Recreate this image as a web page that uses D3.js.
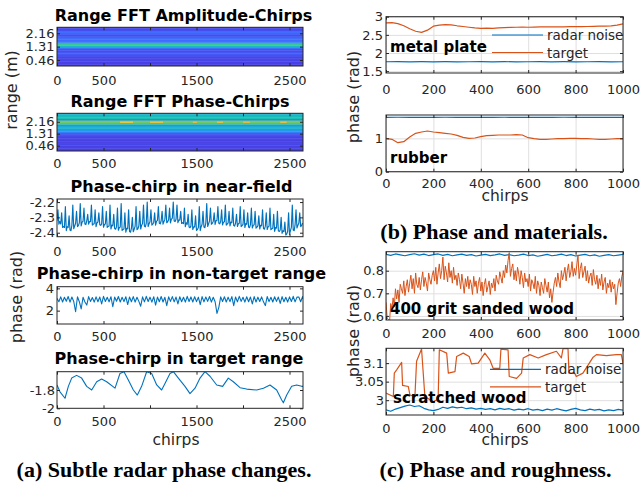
<!DOCTYPE html>
<html>
<head>
<meta charset="utf-8">
<script src="https://cdn.jsdelivr.net/npm/d3@7"></script>
<style>
  body { margin: 0; background: #fff; }
  text { font-family: "DejaVu Sans", sans-serif; }
</style>
</head>
<body>
<div id="chart"></div>
<script>
// ---- data ----
var chirpMaxA = 2645;
var xTicksA = [0, 500, 1000, 1500, 2000, 2500];
var xLabelsA = [0, 500, 1500, 2500];
var xTicksBC = [0, 200, 400, 600, 800, 1000];
var rangeTicks = [0.46, 1.31, 2.16];

// range FFT heat maps: one value per 0.1 m range bin, bottom bin first
var rangeStart = 0.08, rangeStep = 0.1;
var ampRows = [0.1, 0.1, 0.1, 0.11, 0.12, 0.11, 0.13, 0.16, 0.17, 0.13, 0.14, 0.22, 0.45,
               0.6, 0.52, 0.25, 0.2, 0.22, 0.18, 0.13, 0.17, 0.21, 0.14, 0.12, 0.12];
var phaseRows = [0.1, 0.1, 0.11, 0.1, 0.11, 0.12, 0.1, 0.1, 0.11, 0.1, 0.12, 0.12, 0.16,
                 0.26, 0.36, 0.34, 0.45, 0.42, 0.3, 0.56, 0.64, 0.62, 0.27, 0.5, 0.5, 0.45, 0.45];
// [chirp from, chirp to, range bin, value]
var phaseHot = [[677, 817, 20, 0.86], [1000, 1140, 20, 0.84], [1460, 1505, 20, 0.8],
                [1720, 1785, 20, 0.82], [2000, 2075, 20, 0.8], [2400, 2470, 20, 0.82]];

// near-field phase, one value every 10 chirps
var nearField = [
  -2.322, -2.25, -2.344, -2.327, -2.343, -2.27, -2.365, -2.359,
  -2.366, -2.23, -2.386, -2.361, -2.365, -2.29, -2.383, -2.387,
  -2.352, -2.22, -2.374, -2.357, -2.338, -2.26, -2.36, -2.354,
  -2.336, -2.21, -2.356, -2.331, -2.325, -2.24, -2.343, -2.347,
  -2.322, -2.28, -2.344, -2.327, -2.328, -2.22, -2.35, -2.344,
  -2.341, -2.25, -2.361, -2.336, -2.33, -2.27, -2.348, -2.352,
  -2.342, -2.23, -2.364, -2.347, -2.343, -2.26, -2.365, -2.359,
  -2.356, -2.22, -2.376, -2.351, -2.355, -2.28, -2.373, -2.377,
  -2.362, -2.24, -2.384, -2.367, -2.363, -2.21, -2.385, -2.379,
  -2.376, -2.27, -2.396, -2.371, -2.375, -2.25, -2.393, -2.397,
  -2.372, -2.30, -2.394, -2.377, -2.358, -2.23, -2.38, -2.374,
  -2.356, -2.26, -2.376, -2.351, -2.34, -2.22, -2.358, -2.362,
  -2.337, -2.20, -2.359, -2.342, -2.328, -2.25, -2.35, -2.344,
  -2.331, -2.27, -2.351, -2.326, -2.32, -2.23, -2.338, -2.342,
  -2.322, -2.26, -2.344, -2.327, -2.313, -2.22, -2.335, -2.329,
  -2.316, -2.24, -2.336, -2.311, -2.305, -2.20, -2.323, -2.327,
  -2.312, -2.22, -2.334, -2.317, -2.318, -2.26, -2.34, -2.334,
  -2.341, -2.24, -2.361, -2.336, -2.345, -2.28, -2.363, -2.367,
  -2.357, -2.25, -2.379, -2.362, -2.363, -2.29, -2.385, -2.379,
  -2.366, -2.23, -2.386, -2.361, -2.345, -2.26, -2.363, -2.367,
  -2.337, -2.21, -2.359, -2.342, -2.323, -2.24, -2.345, -2.339,
  -2.326, -2.27, -2.346, -2.321, -2.32, -2.23, -2.338, -2.342,
  -2.327, -2.25, -2.349, -2.332, -2.328, -2.22, -2.35, -2.344,
  -2.336, -2.26, -2.356, -2.331, -2.335, -2.24, -2.353, -2.357,
  -2.337, -2.28, -2.359, -2.342, -2.338, -2.23, -2.36, -2.354,
  -2.346, -2.25, -2.366, -2.341, -2.345, -2.27, -2.363, -2.367,
  -2.347, -2.24, -2.369, -2.352, -2.348, -2.26, -2.37, -2.364,
  -2.356, -2.29, -2.376, -2.351, -2.355, -2.25, -2.373, -2.377,
  -2.357, -2.27, -2.379, -2.362, -2.358, -2.24, -2.38, -2.374,
  -2.371, -2.28, -2.391, -2.366, -2.37, -2.26, -2.388, -2.392,
  -2.382, -2.30, -2.404, -2.387, -2.393, -2.33, -2.415, -2.409,
  -2.391, -2.27, -2.411, -2.386, -2.365, -2.22, -2.383, -2.387,
  -2.347, -2.25, -2.369, -2.352, -2.338, -2.27, -2.36, -2.354,
  -2.337];

// non-target range phase, one value every 20 chirps
var nonTarget = [3.1, 2.8, 3.24, 2.78, 3.2, 2.85, 3.27, 2.76, 3.22, 2.82,
  1.9, 3.25, 2.8, 2.15, 3.2, 2.78, 2.5, 3.26, 2.83, 3.18,
  2.77, 3.24, 2.8, 3.22, 2.6, 3.28, 2.82, 3.2, 2.79, 3.25,
  2.35, 3.22, 2.84, 3.27, 2.78, 3.2, 2.81, 3.25, 2.55, 3.23,
  2.8, 3.26, 2.77, 3.2, 2.83, 2.4, 3.24, 2.79, 3.28, 2.82,
  3.21, 2.76, 3.25, 2.5, 3.22, 2.8, 3.27, 2.78, 3.2, 2.45,
  3.24, 2.83, 3.26, 2.79, 3.22, 2.6, 3.25, 2.8, 3.2, 2.77,
  3.28, 2.82, 3.23, 2.78, 3.25, 2.81, 3.21, 2.55, 3.26, 2.79,
  3.22, 2.83, 3.27, 2.77, 3.2, 2.8, 1.75, 2.3, 3.24, 2.82,
  3.25, 2.78, 3.21, 2.81, 3.26, 2.45, 3.23, 2.79, 3.28, 2.83,
  3.2, 2.77, 3.25, 2.8, 3.22, 2.6, 3.26, 2.78, 3.21, 2.82,
  3.24, 2.79, 2.45, 3.27, 2.81, 3.2, 2.78, 3.25, 2.83, 3.22,
  2.65, 3.26, 2.8, 3.2, 2.77, 3.24, 2.82, 3.28, 2.79, 3.21,
  3.23, 2.8, 3.26, 2.78, 3.2, 2.83, 3.25, 2.79, 3.22, 2.8,
  2.81, 2.2, 3.1];

// target range phase [chirp, rad]
var targetRange = [[0, -1.745], [32, -1.82], [86, -1.89], [122, -1.76], [158, -1.67], [211, -1.64],
  [265, -1.67], [319, -1.76], [373, -1.8], [427, -1.71], [480, -1.68], [534, -1.71], [624, -1.78],
  [677, -1.62], [720, -1.6], [767, -1.69], [821, -1.8], [864, -1.855], [910, -1.76], [964, -1.6],
  [1018, -1.62], [1072, -1.745], [1125, -1.8], [1161, -1.73], [1215, -1.62], [1251, -1.6],
  [1305, -1.67], [1376, -1.76], [1430, -1.84], [1484, -1.78], [1538, -1.67], [1591, -1.6],
  [1645, -1.65], [1717, -1.745], [1781, -1.76], [1842, -1.67], [1896, -1.71], [1968, -1.775],
  [2039, -1.79], [2147, -1.8], [2219, -1.78], [2290, -1.745], [2362, -1.8], [2416, -1.91],
  [2434, -1.94], [2470, -1.855], [2523, -1.76], [2577, -1.745], [2631, -1.76], [2645, -1.76]];

// (b) materials, every 25 chirps for target, every 50 for noise
var metalTarget = [2.83, 2.835, 2.81, 2.75, 2.67, 2.6, 2.57, 2.63, 2.74, 2.77, 2.78, 2.775, 2.75,
  2.73, 2.71, 2.69, 2.68, 2.685, 2.68, 2.69, 2.7, 2.705, 2.71, 2.712, 2.71, 2.715, 2.72, 2.718,
  2.72, 2.722, 2.72, 2.725, 2.73, 2.728, 2.73, 2.735, 2.74, 2.738, 2.75, 2.77, 2.8];
var metalNoise = [1.76, 1.762, 1.758, 1.761, 1.759, 1.762, 1.758, 1.76, 1.761, 1.759, 1.762,
  1.758, 1.76, 1.761, 1.759, 1.762, 1.758, 1.76, 1.761, 1.759, 1.76];
var rubberTarget = [1.0, 0.97, 0.87, 0.9, 1.04, 1.15, 1.19, 1.22, 1.19, 1.17, 1.15, 1.13, 1.09,
  1.03, 1.0, 1.01, 1.05, 1.08, 1.09, 1.1, 1.1, 1.1, 1.11, 1.1, 1.02, 0.99, 0.97, 0.97, 0.98,
  0.99, 0.99, 1.0, 1.0, 0.99, 0.99, 0.98, 0.97, 0.97, 0.98, 0.99, 0.99];
var rubberNoise = [1.63, 1.632, 1.628, 1.631, 1.629, 1.632, 1.628, 1.63, 1.631, 1.629, 1.632,
  1.628, 1.63, 1.631, 1.629, 1.632, 1.628, 1.63, 1.631, 1.629, 1.63];

// (c) roughness; sanded target every 5 chirps
var sandedTarget = [
  0.66, 0.59, 0.585, 0.575, 0.655, 0.632, 0.68, 0.64, 0.72, 0.675,
  0.715, 0.66, 0.74, 0.72, 0.70, 0.755, 0.69, 0.73, 0.76, 0.705,
  0.745, 0.78, 0.72, 0.765, 0.70, 0.79, 0.74, 0.725, 0.77, 0.715,
  0.76, 0.795, 0.73, 0.77, 0.745, 0.71, 0.79, 0.76, 0.74, 0.78,
  0.80, 0.755, 0.815, 0.74, 0.79, 0.83, 0.765, 0.80, 0.86, 0.76,
  0.82, 0.79, 0.75, 0.835, 0.77, 0.80, 0.745, 0.815, 0.76, 0.78,
  0.735, 0.79, 0.76, 0.72, 0.785, 0.745, 0.70, 0.765, 0.73, 0.775,
  0.72, 0.76, 0.74, 0.695, 0.775, 0.73, 0.755, 0.70, 0.745, 0.77,
  0.71, 0.75, 0.69, 0.74, 0.765, 0.705, 0.73, 0.755, 0.695, 0.745,
  0.725, 0.765, 0.71, 0.78, 0.755, 0.74, 0.795, 0.77, 0.745, 0.80,
  0.77, 0.825, 0.79, 0.845, 0.88, 0.775, 0.81, 0.83, 0.76, 0.80,
  0.755, 0.815, 0.785, 0.74, 0.80, 0.77, 0.725, 0.79, 0.75, 0.765,
  0.73, 0.785, 0.71, 0.76, 0.745, 0.72, 0.775, 0.70, 0.755, 0.735,
  0.69, 0.75, 0.725, 0.70, 0.765, 0.735, 0.705, 0.75, 0.68, 0.72,
  0.66, 0.705, 0.745, 0.77, 0.73, 0.79, 0.75, 0.725, 0.80, 0.76,
  0.785, 0.815, 0.755, 0.80, 0.83, 0.77, 0.795, 0.84, 0.775, 0.81,
  0.78, 0.825, 0.87, 0.765, 0.81, 0.835, 0.77, 0.795, 0.82, 0.755,
  0.80, 0.745, 0.775, 0.79, 0.735, 0.805, 0.76, 0.74, 0.78, 0.72,
  0.765, 0.735, 0.785, 0.715, 0.75, 0.77, 0.70, 0.745, 0.725, 0.76,
  0.705, 0.75, 0.72, 0.74, 0.65, 0.70, 0.745, 0.765, 0.73, 0.775,
  0.795];
var sandedNoise = [0.872, 0.868, 0.874, 0.870, 0.866, 0.871, 0.875, 0.869, 0.873, 0.867,
  0.871, 0.874, 0.868, 0.872, 0.866, 0.870, 0.873, 0.868, 0.871, 0.865,
  0.869, 0.872, 0.867, 0.870, 0.874, 0.868, 0.871, 0.866, 0.869, 0.873,
  0.867, 0.870, 0.864, 0.868, 0.872, 0.866, 0.869, 0.873, 0.867, 0.871,
  0.865, 0.869, 0.872, 0.866, 0.870, 0.864, 0.868, 0.871, 0.866, 0.869, 0.872];
var scratchTarget = [[0, 3.019], [17, 3.014], [31, 3.01], [35, 3.073], [45, 3.082], [66, 3.102],
  [70, 3.04], [94, 3.037], [101, 3.014], [122, 3.01], [129, 3.105], [150, 3.138], [164, 3.01],
  [199, 2.996], [220, 3.003], [225, 3.136], [256, 3.127], [263, 3.073], [291, 3.077], [298, 3.118],
  [326, 3.127], [351, 3.118], [361, 3.098], [389, 3.1], [417, 3.127], [438, 3.109], [452, 3.086],
  [480, 3.086], [485, 3.138], [515, 3.136], [520, 3.064], [551, 3.059], [572, 3.073], [579, 3.114],
  [607, 3.123], [642, 3.114], [677, 3.123], [719, 3.132], [740, 3.114], [747, 3.139], [768, 3.139],
  [772, 3.073], [796, 3.073], [803, 3.064], [831, 3.073], [874, 3.116], [888, 3.123], [930, 3.12],
  [972, 3.123], [993, 3.123], [1000, 3.1]];
var scratchNoise = [2.974, 2.970, 2.976, 2.980, 2.984, 2.987, 2.983, 2.985, 2.978, 2.974,
  2.972, 2.975, 2.981, 2.978, 2.982, 2.979, 2.981, 2.977, 2.979, 2.976,
  2.978, 2.975, 2.977, 2.974, 2.978, 2.975, 2.977, 2.973, 2.976, 2.974,
  2.977, 2.973, 2.975, 2.972, 2.976, 2.973, 2.977, 2.974, 2.971, 2.975,
  2.978, 2.974, 2.972, 2.976, 2.973, 2.975, 2.971, 2.974, 2.972, 2.975, 2.973];

var legendNames = ["radar noise", "target"];

// ---- drawing ----
var blue = "#0072bd", orange = "#d95319", axisCol = "#262626";
var parula = d3.scaleLinear()
  .domain([0, .1, .2, .3, .4, .5, .6, .7, .8, .9, 1])
  .range(["#3e26a8", "#4741e5", "#4269fe", "#2d8cf3", "#1ca9df", "#19bfb6",
          "#4acb84", "#abc739", "#efba36", "#f9d62d", "#f9fb14"]);

var svg = d3.select("#chart").append("svg")
  .attr("width", 642).attr("height", 489);
var defs = svg.append("defs");
var clipCount = 0;

function panel(o) {
  var x = d3.scaleLinear().domain(o.xd).range([o.left, o.left + o.w]);
  var y = d3.scaleLinear().domain(o.yd).range([o.top + o.h, o.top]);
  var g = svg.append("g");

  if (o.grid) {
    g.append("g").attr("transform", "translate(0," + (o.top + o.h) + ")")
      .call(d3.axisBottom(x).tickValues(o.xt).tickSize(-o.h).tickFormat(""))
      .call(function(s) { s.select(".domain").remove(); })
      .selectAll("line").attr("stroke", "#dfdfdf");
    g.append("g").attr("transform", "translate(" + o.left + ",0)")
      .call(d3.axisLeft(y).tickValues(o.yt).tickSize(-o.w).tickFormat(""))
      .call(function(s) { s.select(".domain").remove(); })
      .selectAll("line").attr("stroke", "#dfdfdf");
  }

  var id = "clip" + (clipCount++);
  defs.append("clipPath").attr("id", id).append("rect")
    .attr("x", o.left).attr("y", o.top).attr("width", o.w).attr("height", o.h);
  var plot = g.append("g").attr("clip-path", "url(#" + id + ")");
  var axes = g.append("g");

  function style(s) {
    s.attr("font-size", 13).attr("color", axisCol);
    s.select(".domain").remove();
  }
  axes.append("g").attr("transform", "translate(0," + (o.top + o.h) + ")")
    .call(d3.axisBottom(x).tickValues(o.xt).tickFormat(o.xf)
      .tickSizeInner(-3).tickSizeOuter(0).tickPadding(o.xpad))
    .call(style);
  axes.append("g").attr("transform", "translate(0," + o.top + ")")
    .call(d3.axisTop(x).tickValues(o.xt).tickFormat("").tickSizeInner(-3).tickSizeOuter(0))
    .call(style);
  axes.append("g").attr("transform", "translate(" + o.left + ",0)")
    .call(d3.axisLeft(y).tickValues(o.yt).tickFormat(o.yf)
      .tickSizeInner(-3).tickSizeOuter(0).tickPadding(o.ypad))
    .call(style);
  axes.append("g").attr("transform", "translate(" + (o.left + o.w) + ",0)")
    .call(d3.axisRight(y).tickValues(o.yt).tickFormat("").tickSizeInner(-3).tickSizeOuter(0))
    .call(style);
  axes.append("rect")
    .attr("x", o.left).attr("y", o.top).attr("width", o.w).attr("height", o.h)
    .attr("fill", "none").attr("stroke", axisCol).attr("stroke-width", 1);

  return { x: x, y: y, plot: plot };
}

function drawLine(p, data, color, width) {
  p.plot.append("path")
    .datum(data)
    .attr("fill", "none")
    .attr("stroke", color)
    .attr("stroke-width", width || 1.1)
    .attr("stroke-linejoin", "round")
    .attr("d", d3.line().x(function(d) { return p.x(d[0]); }).y(function(d) { return p.y(d[1]); }));
}
function stepped(values, step) {
  return values.map(function(v, i) { return [i * step, v]; });
}

function title(txt, x, y) {
  svg.append("text").attr("x", x).attr("y", y).attr("text-anchor", "middle")
    .attr("font-weight", "bold").attr("font-size", 16).attr("fill", "#000").text(txt);
}
function yLabel(txt, x, y) {
  svg.append("text").attr("transform", "translate(" + x + "," + y + ") rotate(-90)")
    .attr("text-anchor", "middle").attr("font-size", 16).attr("fill", axisCol).text(txt);
}
function xLabel(txt, x, y) {
  svg.append("text").attr("x", x).attr("y", y).attr("text-anchor", "middle")
    .attr("font-size", 15.5).attr("fill", axisCol).text(txt);
}
function tag(txt, x, y) {
  svg.append("text").attr("x", x).attr("y", y).attr("font-weight", "bold")
    .attr("font-size", 15).attr("fill", "#000").text(txt);
}
function caption(txt, x, y) {
  svg.append("text").attr("x", x).attr("y", y).attr("text-anchor", "middle")
    .style("font-family", "'Liberation Serif', serif").attr("font-weight", "bold")
    .attr("font-size", 22).attr("fill", "#000").text(txt);
}
function legend(x, y) {
  var g = svg.append("g").selectAll("g").data(legendNames).enter().append("g")
    .attr("transform", function(d, i) { return "translate(" + x + "," + (y + i * 17.5) + ")"; });
  g.append("line").attr("x1", 0).attr("x2", 51).attr("stroke-width", 1.2)
    .attr("stroke", function(d, i) { return i ? orange : blue; });
  g.append("text").attr("x", 55).attr("y", 5).attr("font-size", 13.5).attr("fill", axisCol)
    .text(function(d) { return d; });
}

var fmtA = function(d) { return xLabelsA.indexOf(d) >= 0 ? d : ""; };
var fmtR = function(d) { return d.toFixed(2); };
var fmtN = function(d) { return String(d); };

// ---- (a) ----
function heat(p, rows, hot) {
  p.plot.selectAll("rect.row").data(rows).enter().append("rect")
    .attr("class", "row")
    .attr("x", p.x(0)).attr("width", p.x(chirpMaxA) - p.x(0))
    .attr("y", function(d, i) { return p.y(rangeStart + rangeStep * (i + 1)); })
    .attr("height", function(d, i) {
      return p.y(rangeStart + rangeStep * i) - p.y(rangeStart + rangeStep * (i + 1)) + 0.4;
    })
    .attr("fill", function(d) { return parula(d); });
  if (hot) {
    p.plot.selectAll("rect.hot").data(hot).enter().append("rect")
      .attr("class", "hot")
      .attr("x", function(d) { return p.x(d[0]); })
      .attr("width", function(d) { return p.x(d[1]) - p.x(d[0]); })
      .attr("y", function(d) { return p.y(rangeStart + rangeStep * (d[2] + 1)); })
      .attr("height", function(d) { return p.y(rangeStart + rangeStep * d[2]) - p.y(rangeStart + rangeStep * (d[2] + 1)); })
      .attr("fill", function(d) { return parula(d[3]); });
  }
}

var a1 = panel({ left: 57, top: 27.3, w: 246, h: 38.7, xd: [0, chirpMaxA], yd: [0.08, 2.54],
  xt: xTicksA, yt: rangeTicks, xf: fmtA, yf: fmtR, xpad: 9.8, ypad: 2.5 });
heat(a1, ampRows);
var a2 = panel({ left: 57, top: 113.3, w: 246, h: 37.7, xd: [0, chirpMaxA], yd: [0.08, 2.76],
  xt: xTicksA, yt: rangeTicks, xf: fmtA, yf: fmtR, xpad: 8.2, ypad: 2.5 });
heat(a2, phaseRows, phaseHot);

var a3 = panel({ left: 57, top: 199, w: 246, h: 37.7, xd: [0, chirpMaxA], yd: [-2.426, -2.18],
  xt: xTicksA, yt: [-2.4, -2.3, -2.2], xf: fmtA, yf: function(d) { return d.toFixed(1); }, xpad: 10, ypad: 2 });
drawLine(a3, stepped(nearField, 10), blue, 1.15);

var a4 = panel({ left: 57, top: 286.7, w: 246, h: 37.3, xd: [0, chirpMaxA], yd: [0.8, 4.15],
  xt: xTicksA, yt: [2, 4], xf: fmtA, yf: fmtN, xpad: 7.5, ypad: 3 });
drawLine(a4, stepped(nonTarget, 20), blue, 1.1);

var a5 = panel({ left: 57, top: 371.7, w: 246, h: 36.6, xd: [0, chirpMaxA], yd: [-2, -1.6],
  xt: xTicksA, yt: [-2, -1.8], xf: fmtA, yf: fmtN, xpad: 8.5, ypad: 2 });
drawLine(a5, targetRange, blue, 1.1);

title("Range FFT Amplitude-Chirps", 183.5, 20.5);
title("Range FFT Phase-Chirps", 180, 106.5);
title("Phase-chirp in near-field", 181.5, 191.5);
title("Phase-chirp in non-target range", 181.5, 278.5);
title("Phase-chirp in target range", 179, 364);
yLabel("range (m)", 17, 90);
yLabel("phase (rad)", 22, 297);
xLabel("chirps", 176, 444.5);
caption("(a) Subtle radar phase changes.", 164, 477);

// ---- (b) ----
var b1 = panel({ left: 386, top: 16.7, w: 237, h: 56.3, xd: [0, 1000], yd: [1.45, 3], grid: true,
  xt: xTicksBC, yt: [1.5, 2, 2.5, 3], xf: fmtN, yf: fmtN, xpad: 11.8, ypad: 3 });
drawLine(b1, stepped(metalNoise, 50), blue, 1.2);
drawLine(b1, stepped(metalTarget, 25), orange, 1.2);

var b2 = panel({ left: 386, top: 115, w: 237, h: 56.7, xd: [0, 1000], yd: [0, 1.7], grid: true,
  xt: xTicksBC, yt: [0, 1], xf: fmtN, yf: fmtN, xpad: 7.5, ypad: 3 });
drawLine(b2, stepped(rubberNoise, 50), blue, 1.2);
drawLine(b2, stepped(rubberTarget, 25), orange, 1.2);

legend(492, 35);
tag("metal plate", 390, 51.5);
tag("rubber", 390, 163);
yLabel("phase (rad)", 359, 97);
xLabel("chirps", 505, 201);
caption("(b) Phase and materials.", 494, 239);

// ---- (c) ----
var c1 = panel({ left: 386, top: 251.7, w: 237, h: 68.3, xd: [0, 1000], yd: [0.582, 0.884], grid: true,
  xt: xTicksBC, yt: [0.6, 0.7, 0.8], xf: fmtN, yf: fmtN, xpad: 8.8, ypad: 2 });
drawLine(c1, stepped(sandedNoise, 20), blue, 1.2);
drawLine(c1, stepped(sandedTarget, 5), orange, 1);

var c2 = panel({ left: 386, top: 348.3, w: 237, h: 66.7, xd: [0, 1000], yd: [2.96, 3.14], grid: true,
  xt: xTicksBC, yt: [3, 3.05, 3.1], xf: fmtN, yf: fmtN, xpad: 9, ypad: 2 });
drawLine(c2, stepped(scratchNoise, 20), blue, 1.2);
drawLine(c2, scratchTarget, orange, 1.2);

legend(490, 369.3);
tag("400 grit sanded wood", 390, 313.5);
tag("scratched wood", 393, 403);
yLabel("phase (rad)", 359, 331);
xLabel("chirps", 505, 445);
caption("(c) Phase and roughness.", 495.5, 477);
</script>
</body>
</html>
